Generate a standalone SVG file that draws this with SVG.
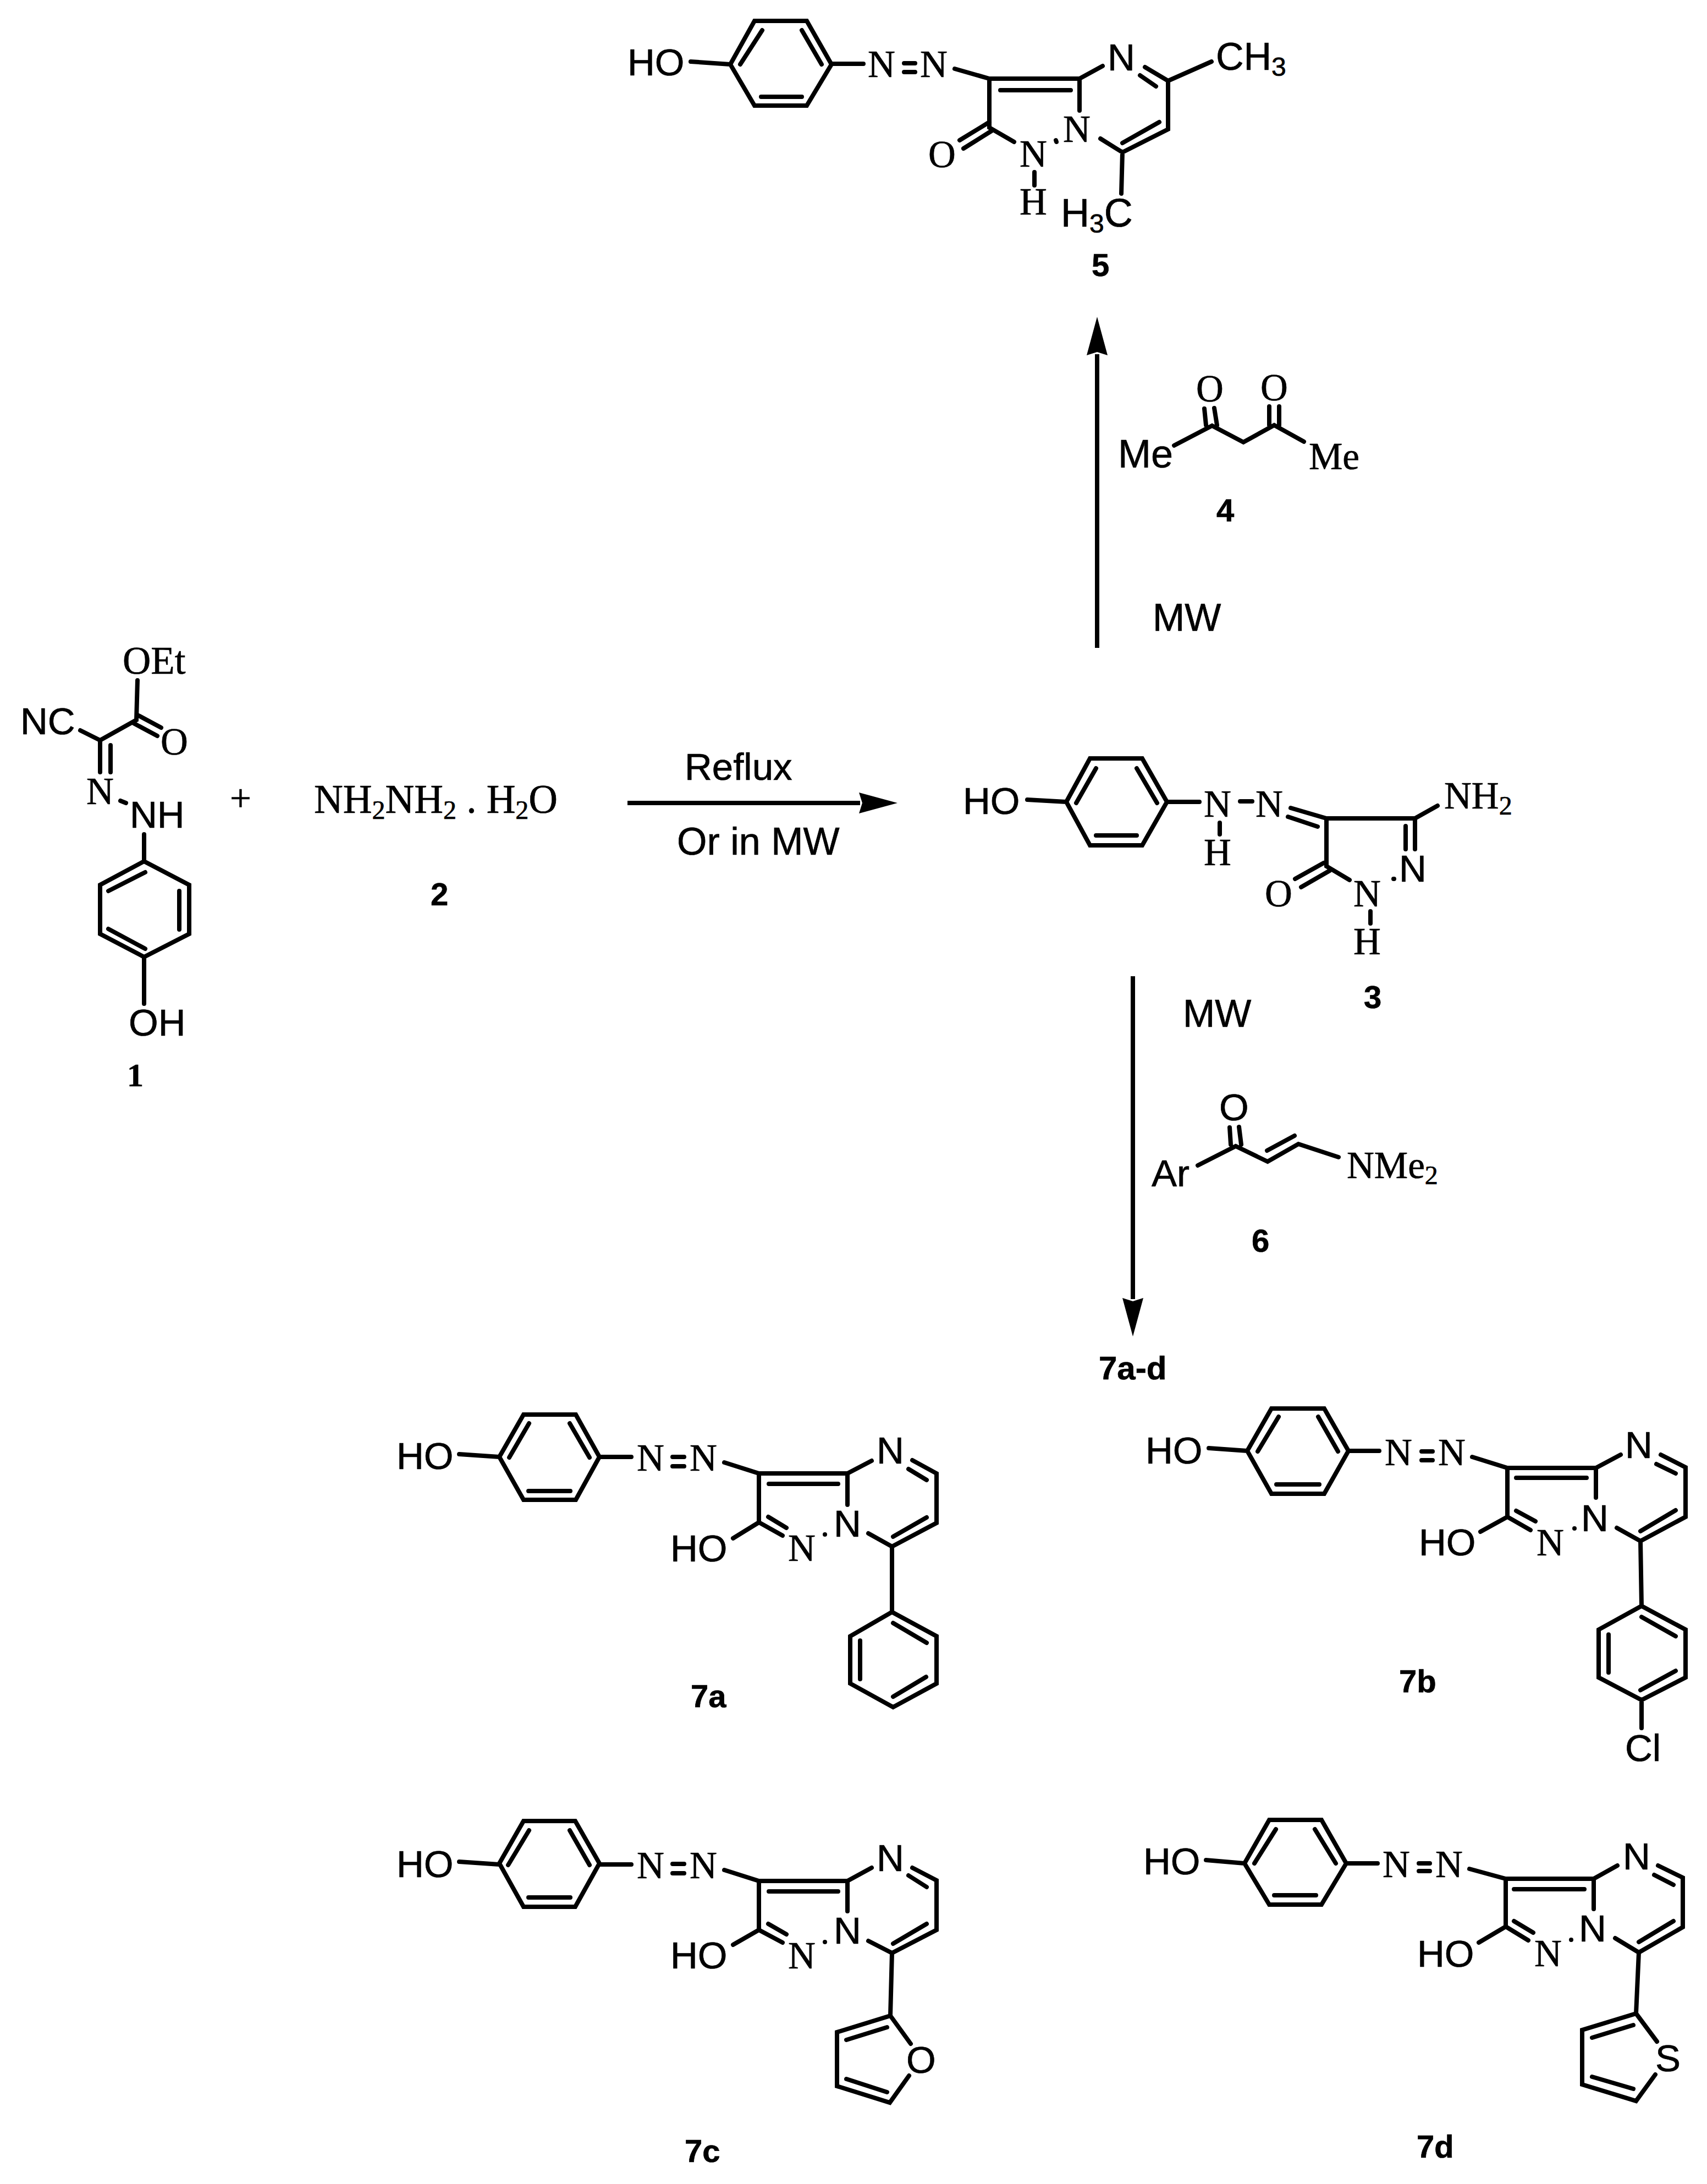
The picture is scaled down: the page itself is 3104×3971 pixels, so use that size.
<svg xmlns="http://www.w3.org/2000/svg" width="3104" height="3971" viewBox="0 0 3104 3971">
<style>
text{fill:#000;font-size:69px;stroke:#000;stroke-width:.7}
.a{font-family:"Liberation Sans",Arial,sans-serif}
.t{font-family:"Liberation Serif","Times New Roman",serif}
.b{font-family:"Liberation Sans",Arial,sans-serif;font-weight:700;font-size:58px}
.tb{font-family:"Liberation Serif","Times New Roman",serif;font-weight:700;font-size:60px}
.s{font-size:48px}
.bond{fill:none;stroke:#000;stroke-width:8;stroke-linecap:round;stroke-linejoin:miter}
.arrow{fill:none;stroke:#000;stroke-width:8;marker-end:url(#head)}
</style>
<defs>
<marker id="head" markerUnits="userSpaceOnUse" markerWidth="72" markerHeight="40" refX="2" refY="20" orient="auto" viewBox="0 0 72 40">
<path d="M0,1 L70,20 L0,39 L6,20Z" fill="#000"/>
</marker>
</defs>
<rect width="3104" height="3971" fill="#fff"/>

<g id="connectors">
<path class="arrow" d="M1141,1460H1564"/>
<path class="arrow" d="M1995,1178V644"/>
<path class="arrow" d="M2060,1775V2362"/>
</g>

<g id="compound-5">
<path class="bond" d="M1328,117L1372,38H1467L1512,117L1467,192H1372ZM1386,55L1346,117M1458,55L1494,117M1384,176H1458M1256,112L1328,117M1512,116H1570M1644,115H1664M1644,131H1664M1736,125L1799,143H1963M1819,164H1947M1799,143V232L1844,258M1799,222L1745,255M1803,238L1752,270M1963,143V201M1963,143L2005,120M2082,122L2124,147L2203,112M2073,137L2102,157M2124,147V235L2041,277L2001,252M2108,222L2041,260M2041,277L2039,352M1881,313V337M1920,255L1921,258"/>
<text class="a" x="1141" y="137">HO</text>
<text class="t" x="1578" y="140">N</text>
<text class="t" x="1673" y="140">N</text>
<text class="a" x="2014" y="128">N</text>
<text class="a" x="2211" y="127" style="font-size:70px">CH<tspan class="s" dy="11">3</tspan></text>
<text class="t" x="1688" y="304">O</text>
<text class="t" x="1854" y="303">N</text>
<text class="t" x="1854" y="390">H</text>
<text class="t" x="1933" y="258">N</text>
<text class="a" x="1929" y="412" style="font-size:72px">H<tspan class="s" dy="11">3</tspan><tspan dy="-11">C</tspan></text>
<text class="b" x="1985" y="502">5</text>
</g>

<g id="compound-4">
<path class="bond" d="M2135,810L2204,774L2261,804L2317,773L2371,803M2190,743L2193,773M2208,742L2213,773M2308,739V773M2326,739V773"/>
<text class="t" x="2175" y="730">O</text>
<text class="t" x="2292" y="728">O</text>
<text class="a" x="2033" y="850" style="font-size:72px">Me</text>
<text class="t" x="2380" y="853">Me</text>
<text class="b" x="2212" y="948">4</text>
</g>

<text class="a" x="2096" y="1147" style="font-size:70px">MW</text>

<g id="compound-1">
<path class="bond" d="M250,1237L248,1309L182,1346L146,1328M250,1300L293,1323M243,1315L286,1338M182,1346V1404M201,1355V1404M219,1456L229,1460M262,1517V1566L344,1609V1698L262,1740L182,1698V1609L262,1566M197,1620L264,1586M326,1620V1690M197,1689L264,1725M262,1740V1825"/>
<text class="t" x="223" y="1225" style="font-size:71px">OEt</text>
<text class="a" x="37" y="1335">NC</text>
<text class="t" x="292" y="1372">O</text>
<text class="t" x="157" y="1462">N</text>
<text class="a" x="236" y="1505">NH</text>
<text class="a" x="234" y="1883">OH</text>
<text class="tb" x="231" y="1975">1</text>
</g>

<text id="plus" class="t" x="418" y="1475">+</text>

<g id="compound-2">
<text class="t" x="571" y="1478" style="font-size:73px">NH<tspan class="s" dy="11">2</tspan><tspan dy="-11">NH</tspan><tspan class="s" dy="11">2</tspan><tspan dy="-11"> . H</tspan><tspan class="s" dy="11">2</tspan><tspan dy="-11">O</tspan></text>
<text class="b" x="783" y="1646">2</text>
</g>

<text class="a" x="1245" y="1418" style="font-size:69px">Reflux</text>
<text class="a" x="1231" y="1554" style="font-size:70px">Or in MW</text>

<g id="compound-3">
<path class="bond" d="M1939,1458L1982,1379H2077L2122,1458L2077,1537H1982ZM1993,1397L1957,1460M2067,1397L2104,1460M1993,1519H2067M1868,1454L1939,1458M2122,1458H2181M2255,1457H2277M2218,1496V1517M2347,1469L2412,1488H2573L2614,1465M2342,1485L2396,1503M2412,1488V1575L2454,1600M2407,1569L2355,1598M2418,1583L2366,1613M2492,1657V1679M2534,1598L2535,1598M2556,1502V1544M2573,1488V1544"/>
<text class="a" x="1751" y="1480">HO</text>
<text class="t" x="2189" y="1485">N</text>
<text class="t" x="2283" y="1485">N</text>
<text class="t" x="2189" y="1573">H</text>
<text class="t" x="2626" y="1470">NH<tspan class="s" dy="11">2</tspan></text>
<text class="t" x="2300" y="1648">O</text>
<text class="t" x="2461" y="1648">N</text>
<text class="t" x="2461" y="1735">H</text>
<text class="a" x="2544" y="1603">N</text>
<text class="b" x="2480" y="1833">3</text>
</g>

<text class="a" x="2151" y="1867" style="font-size:70px">MW</text>

<g id="compound-6">
<path class="bond" d="M2178,2119L2247,2084L2305,2112L2361,2080L2434,2104M2304,2092L2354,2065M2236,2050L2238,2081M2253,2049L2257,2081"/>
<text class="a" x="2217" y="2037">O</text>
<text class="a" x="2094" y="2157">Ar</text>
<text class="t" x="2449" y="2142">NMe<tspan class="s" dy="11">2</tspan></text>
<text class="b" x="2276" y="2276">6</text>
</g>

<text class="b" x="1998" y="2508" style="font-size:60px">7a-d</text>

<g id="compound-7a">
<path class="bond" d="M908,2649L952,2572H1047L1090,2649L1047,2727H952ZM962,2588L926,2650M1036,2588L1072,2650M961,2711H1037M835,2644L908,2649M1090,2649H1148M1223,2649H1244M1223,2666H1244M1317,2659L1380,2679H1541L1585,2656M1398,2698H1524M1380,2679V2768L1423,2792M1541,2679V2736M1397,2758L1430,2778M1659,2655L1703,2679V2769L1622,2812L1579,2788M1652,2671L1685,2691M1685,2759L1624,2794M1380,2768L1333,2797M1500,2790L1500,2790M1622,2812V2931L1703,2975V3061L1624,3104L1546,3061V2975L1622,2931M1624,2951L1685,2987M1564,2983V3053M1624,3085L1684,3049"/>
<text class="a" x="721" y="2671">HO</text>
<text class="t" x="1158" y="2674">N</text>
<text class="t" x="1254" y="2674">N</text>
<text class="a" x="1594" y="2661">N</text>
<text class="a" x="1516" y="2794">N</text>
<text class="a" x="1219" y="2839">HO</text>
<text class="t" x="1433" y="2838">N</text>
<text class="b" x="1256" y="3104">7a</text>
</g>

<g id="compound-7b">
<path class="bond" d="M2268,2638L2312,2561H2408L2452,2638L2408,2716H2312ZM2325,2576L2287,2639M2397,2576L2433,2639M2321,2699H2399M2198,2633L2268,2638M2452,2638H2508M2585,2639H2605M2585,2655H2605M2677,2649L2741,2669H2902L2947,2645M2757,2687H2885M2741,2669V2758L2783,2782M2902,2669V2723M2757,2747L2792,2766M3020,2645L3065,2668V2758L2983,2802L2940,2778M3012,2662L3047,2679M3047,2746L2983,2784M2741,2758L2692,2785M2863,2779L2863,2779M2983,2802L2985,2920L3065,2963V3050L2985,3091L2907,3050V2963L2985,2920M2985,2940L3047,2975M2925,2972V3041M2983,3073L3047,3038M2985,3091V3142"/>
<text class="a" x="2083" y="2661">HO</text>
<text class="t" x="2518" y="2664">N</text>
<text class="t" x="2615" y="2664">N</text>
<text class="a" x="2955" y="2651">N</text>
<text class="a" x="2875" y="2784">N</text>
<text class="a" x="2580" y="2828">HO</text>
<text class="t" x="2794" y="2828">N</text>
<text class="a" x="2955" y="3202">Cl</text>
<text class="b" x="2544" y="3077">7b</text>
</g>

<g id="compound-7c">
<path class="bond" d="M908,3388L952,3311H1046L1090,3388L1046,3467H952ZM962,3328L924,3391M1036,3328L1072,3391M961,3450H1037M835,3385L908,3390M1090,3390H1148M1223,3389H1244M1223,3406H1244M1317,3400L1380,3420H1541L1585,3396M1398,3439H1524M1380,3420V3509L1423,3532M1541,3420V3475M1397,3498L1430,3517M1659,3396L1703,3419V3509L1622,3551L1579,3529M1652,3410L1685,3431M1685,3498L1624,3534M1380,3509L1333,3536M1500,3531L1500,3531M1622,3551L1619,3665L1522,3695V3793L1618,3823L1653,3774M1619,3665L1656,3716M1539,3709L1613,3686M1539,3780L1613,3804"/>
<text class="a" x="721" y="3413">HO</text>
<text class="t" x="1158" y="3415">N</text>
<text class="t" x="1254" y="3415">N</text>
<text class="a" x="1594" y="3402">N</text>
<text class="a" x="1516" y="3534">N</text>
<text class="a" x="1219" y="3579">HO</text>
<text class="t" x="1433" y="3579">N</text>
<text class="a" x="1648" y="3769">O</text>
<text class="b" x="1245" y="3931">7c</text>
</g>

<g id="compound-7d">
<path class="bond" d="M2263,3388L2308,3309H2403L2448,3388L2403,3463H2308ZM2320,3326L2281,3388M2391,3326L2429,3388M2317,3446H2393M2193,3382L2263,3388M2448,3388H2505M2580,3388H2600M2580,3402H2600M2672,3398L2738,3416H2898L2941,3392M2753,3435H2881M2738,3416V3503L2779,3528M2898,3416V3471M2753,3493L2788,3514M3015,3392L3060,3414V3504L2980,3550L2937,3524M3008,3409L3043,3427M3043,3493L2980,3531M2738,3503L2689,3532M2857,3527L2857,3527M2980,3550L2975,3661L2877,3691V3790L2975,3820L3010,3772M2975,3661L3013,3712M2895,3705L2970,3682M2895,3776L2970,3798"/>
<text class="a" x="2079" y="3408">HO</text>
<text class="t" x="2514" y="3413">N</text>
<text class="t" x="2610" y="3413">N</text>
<text class="a" x="2951" y="3399">N</text>
<text class="a" x="2871" y="3530">N</text>
<text class="a" x="2577" y="3576">HO</text>
<text class="t" x="2790" y="3575">N</text>
<text class="a" x="3010" y="3766">S</text>
<text class="b" x="2576" y="3923">7d</text>
</g>
</svg>
